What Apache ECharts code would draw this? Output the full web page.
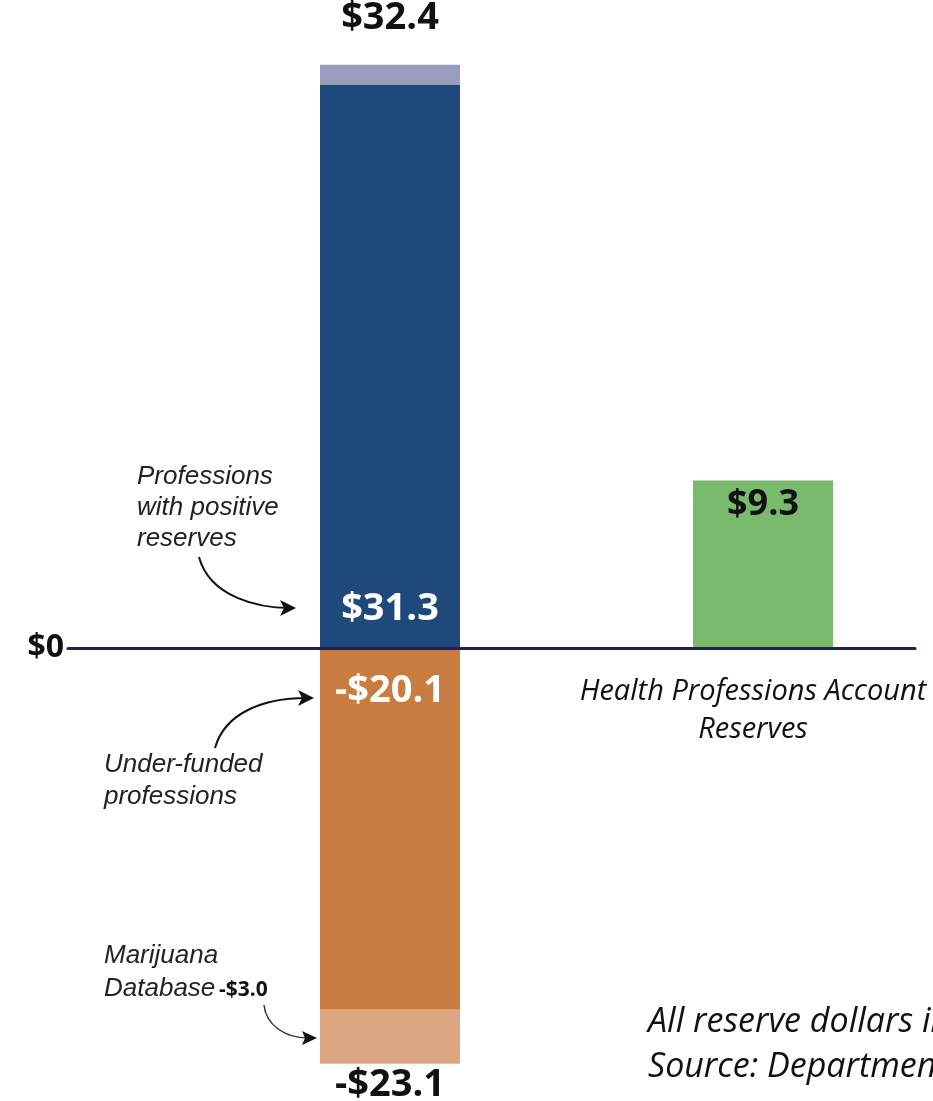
<!DOCTYPE html>
<html>
<head>
<meta charset="utf-8">
<script src="https://cdn.jsdelivr.net/npm/echarts@6/dist/echarts.min.js"></script>
<style>
html, body {margin:0; padding:0; background:#fff;}
#chart {width:933px; height:1101px;}
</style>
</head>
<body>
<div id="chart"></div>
<script type="text/javascript">
var categories = ['Professions', 'Health Professions Account\nReserves'];
// stacked pieces, $ millions
var positiveReserves = [31.3, null];
var otherPositive = [1.1, null];          // 32.4 - 31.3
var underFunded = [-20.1, null];
var marijuanaDb = [-3.0, null];
var accountReserves = [null, 9.3];
var footnotes = ['All reserve dollars in millions.', 'Source: Department of Health'];

function money(v) {
	return (v < 0 ? '-$' : '$') + Math.abs(v).toFixed(1);
}
var totalUp = positiveReserves[0] + otherPositive[0];
var totalDown = underFunded[0] + marijuanaDb[0];

var dom = document.getElementById('chart');
var myChart = echarts.init(dom);
var bigFont = '"Open Sans", "Noto Sans", sans-serif';
var noteFont = '"Liberation Sans", "DejaVu Sans", sans-serif';
var yMin = -25, yMax = 35;

function bar(vals, color, label) {
	return {type: 'bar', stack: 'r', barWidth: 140, data: vals,
		itemStyle: {color: color}, label: label};
}
function lbl(pos, dist, color, size, fmt) {
	return {show: true, position: pos, distance: dist, color: color,
		fontSize: size, fontWeight: 'bold', fontFamily: bigFont, formatter: fmt};
}
function own(p) { return money(p.value); }

var option = {
	animation: false,
	// grid 0 holds the bars, grid 1 only the long $0 line
	grid: [
		{left: 203.5, right: -16.5, top: 18, bottom: 3, outerBoundsMode: 'none', containLabel: false},
		{left: 68, right: 18, top: 18, bottom: 3, outerBoundsMode: 'none', containLabel: false}
	],
	xAxis: [
		{
			type: 'category', gridIndex: 0, data: categories,
			axisLine: {show: false}, axisTick: {show: false}, axisLabel: {show: false}
		},
		{
			type: 'category', gridIndex: 1, data: [], z: 5,
			axisTick: {show: false}, axisLabel: {show: false},
			axisLine: {show: true, onZero: true, lineStyle: {color: '#1f1f5c', width: 3}}
		}
	],
	yAxis: [
		{type: 'value', gridIndex: 0, min: yMin, max: yMax, show: false},
		{
			type: 'value', gridIndex: 1, min: yMin, max: yMax, interval: 5,
			splitLine: {show: false}, axisTick: {show: false}, axisLine: {show: false},
			axisLabel: {
				margin: 4, fontSize: 32, fontWeight: 'bold', color: '#111', fontFamily: bigFont,
				formatter: function (v) { return v === 0 ? '$0' : ''; }
			}
		}
	],
	series: [
		bar(positiveReserves, '#1f497b', lbl('insideBottom', 20, '#fff', 38, own)),
		bar(otherPositive, '#989dbd', lbl('top', 28, '#111', 38, function () { return money(totalUp); })),
		bar(underFunded, '#c97c42', lbl('insideTop', 24, '#fff', 38, own)),
		bar(marijuanaDb, '#dca780', lbl('bottom', 2, '#111', 38, function () { return money(totalDown); })),
		bar(accountReserves, '#7aba6d', lbl('insideTop', 6, '#111', 36, own))
	],
	graphic: [
		// notes on the left
		{type: 'text', left: 137, top: 461, style: {text: 'Professions\nwith positive\nreserves',
			font: 'italic 26px ' + noteFont, lineHeight: 31, fill: '#222'}},
		{type: 'bezierCurve', shape: {x1: 199, y1: 557, cpx1: 210, cpy1: 598, cpx2: 260, cpy2: 608, x2: 290, y2: 608},
			style: {stroke: '#111', lineWidth: 2, fill: null}},
		{type: 'polygon', shape: {points: [[296, 608], [280, 600], [284, 608], [280, 616]]}, style: {fill: '#111'}},

		{type: 'text', left: 104, top: 749, style: {text: 'Under-funded\nprofessions',
			font: 'italic 26px ' + noteFont, lineHeight: 32, fill: '#222'}},
		{type: 'bezierCurve', shape: {x1: 215, y1: 748, cpx1: 225, cpy1: 712, cpx2: 265, cpy2: 698, x2: 306, y2: 698},
			style: {stroke: '#111', lineWidth: 2, fill: null}},
		{type: 'polygon', shape: {points: [[314, 698], [298, 690], [302, 698], [298, 706]]}, style: {fill: '#111'}},

		{type: 'text', left: 104, top: 939, style: {text: 'Marijuana\nDatabase',
			font: 'italic 26px ' + noteFont, lineHeight: 33, fill: '#222'}},
		{type: 'text', left: 219, top: 980, style: {text: money(marijuanaDb[0]),
			font: 'bold 21px ' + bigFont, fill: '#111'}},
		{type: 'bezierCurve', shape: {x1: 264, y1: 1005, cpx1: 266, cpy1: 1025, cpx2: 285, cpy2: 1038, x2: 308, y2: 1038},
			style: {stroke: '#333', lineWidth: 1.5, fill: null}},
		{type: 'polygon', shape: {points: [[317, 1038], [302, 1031], [305, 1038], [302, 1045]]}, style: {fill: '#111'}},

		// category name under the green bar
		{type: 'text', x: 753, y: 673, style: {text: categories[1], align: 'center',
			font: 'italic 29px ' + bigFont, lineHeight: 38, fill: '#111'}},

		// footnotes, running off the right edge
		{type: 'text', left: 648, top: 1005, style: {text: footnotes[0],
			font: 'italic 34px ' + bigFont, fill: '#111'}},
		{type: 'text', left: 648, top: 1050, style: {text: footnotes[1],
			font: 'italic 34px ' + bigFont, fill: '#111'}}
	]
};
if (option && typeof option === 'object') {
	myChart.setOption(option, true);
}
</script>
</body>
</html>
